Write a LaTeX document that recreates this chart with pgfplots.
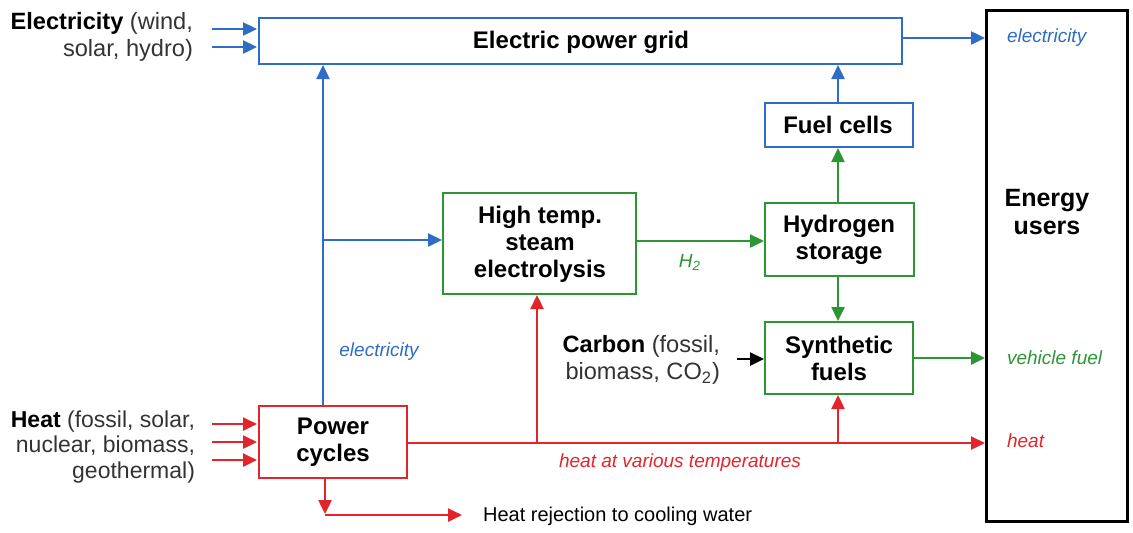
\documentclass[border=0pt]{standalone}
\usepackage{pgfplots}
\pgfplotsset{compat=1.18}
\usepackage{fontspec}
\setmainfont{Liberation Sans}
\usetikzlibrary{arrows.meta}
\definecolor{cblue}{RGB}{46,108,197}
\definecolor{cred}{RGB}{226,36,44}
\definecolor{cgreen}{RGB}{44,150,52}
\begin{document}
\begin{tikzpicture}[
  tip/.style={-{Triangle[length=7pt,width=6.5pt]}},
  bl/.style={font=\fontsize{12}{13.5}\selectfont\bfseries, align=center, text=black},
  lab/.style={font=\fontsize{9.5}{11}\selectfont\itshape}
]
\begin{axis}[
  scale only axis, width=566.5pt, height=263.5pt,
  xmin=0, xmax=1133, ymin=0, ymax=527, y dir=reverse,
  hide axis, clip=false
]
\path (axis cs:0,0) rectangle (axis cs:1133,527);
% ---------- blue lines ----------
\addplot[cblue, line width=1.2pt, tip, mark=none] coordinates {(212,29) (257,29)};
\addplot[cblue, line width=1.2pt, tip, mark=none] coordinates {(212,47) (257,47)};
\addplot[cblue, line width=1.2pt, tip, mark=none] coordinates {(323,406) (323,65)};
\addplot[cblue, line width=1.2pt, tip, mark=none] coordinates {(323,240) (442,240)};
\addplot[cblue, line width=1.2pt, tip, mark=none] coordinates {(903,38) (985,38)};
\addplot[cblue, line width=1.2pt, tip, mark=none] coordinates {(838,102) (838,65)};
% ---------- green lines ----------
\addplot[cgreen, line width=1.2pt, tip, mark=none] coordinates {(637,241) (764,241)};
\addplot[cgreen, line width=1.2pt, tip, mark=none] coordinates {(838,202) (838,148)};
\addplot[cgreen, line width=1.2pt, tip, mark=none] coordinates {(838,277) (838,321)};
\addplot[cgreen, line width=1.2pt, tip, mark=none] coordinates {(914,358) (985,358)};
% ---------- black carbon arrow ----------
\addplot[black, line width=1.2pt, tip, mark=none] coordinates {(737,359) (764,359)};
% ---------- red lines ----------
\addplot[cred, line width=1.2pt, tip, mark=none] coordinates {(212,424) (257,424)};
\addplot[cred, line width=1.2pt, tip, mark=none] coordinates {(212,442) (257,442)};
\addplot[cred, line width=1.2pt, tip, mark=none] coordinates {(212,460) (257,460)};
\addplot[cred, line width=1.2pt, tip, mark=none] coordinates {(408,443) (985,443)};
\addplot[cred, line width=1.2pt, tip, mark=none] coordinates {(537,443) (537,295)};
\addplot[cred, line width=1.2pt, tip, mark=none] coordinates {(838,443) (838,395)};
\addplot[cred, line width=1.2pt, tip, mark=none] coordinates {(325,479) (325,514)};
\addplot[cred, line width=1.2pt, tip, mark=none] coordinates {(325,515) (462,515)};
% ---------- boxes ----------
\addplot[cblue, line width=1.3pt, fill=white, mark=none] coordinates {(259,18) (902,18) (902,64) (259,64)} -- cycle;
\addplot[cblue, line width=1.3pt, fill=white, mark=none] coordinates {(765,103) (913,103) (913,147) (765,147)} -- cycle;
\addplot[cgreen, line width=1.3pt, fill=white, mark=none] coordinates {(765,203) (914,203) (914,276) (765,276)} -- cycle;
\addplot[cgreen, line width=1.3pt, fill=white, mark=none] coordinates {(443,193) (636,193) (636,294) (443,294)} -- cycle;
\addplot[cgreen, line width=1.3pt, fill=white, mark=none] coordinates {(765,322) (913,322) (913,394) (765,394)} -- cycle;
\addplot[cred, line width=1.3pt, fill=white, mark=none] coordinates {(259,406) (407,406) (407,478) (259,478)} -- cycle;
\addplot[black, line width=1.5pt, fill=white, mark=none] coordinates {(986,10) (1127,10) (1127,521) (986,521)} -- cycle;
% ---------- box texts ----------
\node[bl] at (axis cs:581,42) {Electric power grid};
\node[bl] at (axis cs:838,125) {Fuel cells};
\node[bl] at (axis cs:839,240) {Hydrogen\\storage};
\node[bl] at (axis cs:540,244) {High temp.\\steam\\electrolysis};
\node[bl] at (axis cs:839,358) {Synthetic\\fuels};
\node[bl] at (axis cs:333,442) {Power\\cycles};
\node[bl, font=\fontsize{12.5}{14}\selectfont\bfseries] at (axis cs:1047,212) {Energy\\users};
% ---------- side labels ----------
\node[anchor=east, align=right, font=\fontsize{11.8}{13.5}\selectfont, text=black!80] at (axis cs:200,37) {\textbf{\color{black}Electricity} (wind,\\solar, hydro)};
\node[anchor=east, align=right, font=\fontsize{11.5}{12.8}\selectfont, text=black!80] at (axis cs:202,447) {\textbf{\color{black}Heat} (fossil, solar,\\nuclear, biomass,\\geothermal)};
\node[anchor=east, align=right, font=\fontsize{11.8}{13.5}\selectfont, text=black!80] at (axis cs:727,360) {\textbf{\color{black}Carbon} (fossil,\\biomass, CO\textsubscript{2})};
\node[anchor=west, font=\fontsize{10}{12}\selectfont, text=black] at (axis cs:476,516) {Heat rejection to cooling water};
% ---------- italic flow labels ----------
\node[lab, text=cblue, anchor=west] at (axis cs:1000,38) {electricity};
\node[lab, text=cgreen, anchor=west] at (axis cs:1000,358) {vehicle fuel};
\node[lab, text=cred, anchor=west] at (axis cs:1000,441) {heat};
\node[lab, text=cblue] at (axis cs:379,352) {electricity};
\node[lab, text=cgreen] at (axis cs:690,262) {H\textsubscript{2}};
\node[lab, text=cred] at (axis cs:680,463) {heat at various temperatures};
\end{axis}
\end{tikzpicture}
\end{document}
